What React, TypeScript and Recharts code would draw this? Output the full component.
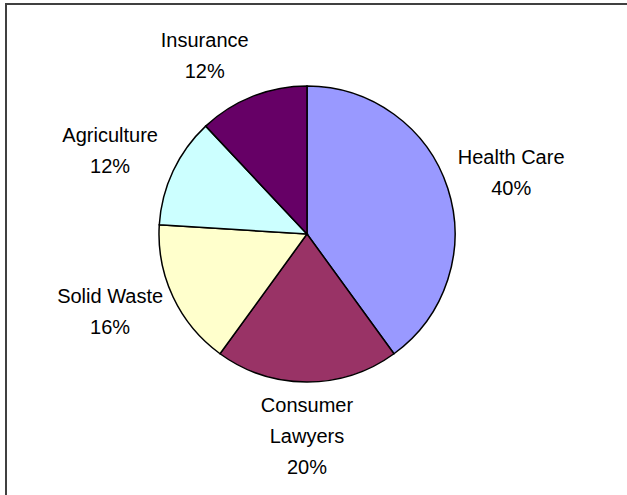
import * as React from "react";
import { PieChart, Pie, Cell } from "recharts";

const categories = ["Health Care", "Consumer Lawyers", "Solid Waste", "Agriculture", "Insurance"];
const shares = [40, 20, 16, 12, 12];
const sliceColors = ["#9999FF", "#993366", "#FFFFCC", "#CCFFFF", "#660066"];

const data = categories.map((name, i) => ({ name, value: shares[i] }));

const RAD = Math.PI / 180;
const LINE = 31;

function splitName(name: string): string[] {
  // long names wrap onto one word per line, like the original
  return name.length > 12 ? name.split(" ") : [name];
}

function renderLabel(props: any) {
  const { cx, cy, midAngle, outerRadius, percent, name } = props;
  const lines = [...splitName(name), `${Math.round(percent * 100)}%`];
  const cos = Math.cos(-midAngle * RAD);
  const sin = Math.sin(-midAngle * RAD);
  const r = outerRadius + 10;
  const w = Math.max(...lines.map((l) => l.length)) * 9.8;
  const h = lines.length * LINE;
  // push the text box outwards so its near edge touches the anchor point
  const kx = Math.max(-1, Math.min(1, cos * 3));
  const x = cx + r * cos + (kx * w) / 2;
  const y = cy + r * sin + (sin * h) / 2 - 3;
  return (
    <text
      x={x}
      y={y}
      textAnchor="middle"
      fill="#000"
      fontSize={20}
      fontFamily="'Liberation Sans', Arial, sans-serif"
    >
      {lines.map((l, i) => (
        <tspan key={i} x={x} y={y + (i - (lines.length - 1) / 2) * LINE} dominantBaseline="central">
          {l}
        </tspan>
      ))}
    </text>
  );
}

export default function App(): JSX.Element {
  return (
    <div
      style={{
        position: "absolute",
        left: 0,
        top: 0,
        width: 627,
        height: 495,
        overflow: "hidden",
        background: "#fff",
      }}
    >
      <div
        style={{
          position: "absolute",
          left: 5,
          top: 3,
          width: 660,
          height: 540,
          borderTop: "2px solid #404040",
          borderLeft: "2px solid #404040",
        }}
      />
      <PieChart
        width={627}
        height={495}
        margin={{ top: 0, right: 0, bottom: 0, left: 0 }}
        style={{ position: "absolute", left: 0, top: 0 }}
      >
        <Pie
          data={data}
          dataKey="value"
          nameKey="name"
          cx={307}
          cy={234}
          outerRadius={148}
          startAngle={90}
          endAngle={-270}
          stroke="#000"
          strokeWidth={1.5}
          label={renderLabel}
          labelLine={false}
          isAnimationActive={false}
        >
          {data.map((d, i) => (
            <Cell key={d.name} fill={sliceColors[i]} />
          ))}
        </Pie>
      </PieChart>
    </div>
  );
}
